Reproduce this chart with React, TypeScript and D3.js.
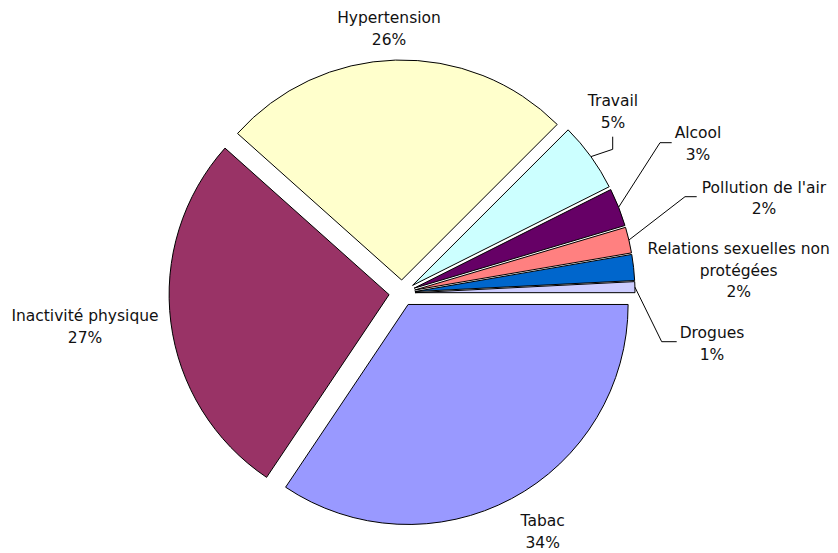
import React from "react";
import * as d3 from "d3";

const categories = [
  "Tabac",
  "Inactivité physique",
  "Hypertension",
  "Travail",
  "Alcool",
  "Pollution de l'air",
  "Relations sexuelles non protégées",
  "Drogues",
];
const values = [34.4, 27.2, 25.9, 5.1, 2.8, 1.9, 1.9, 0.8];
const nameLines = [
  ["Tabac"],
  ["Inactivité physique"],
  ["Hypertension"],
  ["Travail"],
  ["Alcool"],
  ["Pollution de l'air"],
  ["Relations sexuelles non", "protégées"],
  ["Drogues"],
];
const colors = ["#9999FF", "#993366", "#FFFFCC", "#CCFFFF", "#660066", "#FF8080", "#0066CC", "#CCCCFF"];

// layout (label anchor: center x, first baseline y)
const labelPos: [number, number][] = [
  [542.7, 526],
  [85, 321],
  [389, 23.3],
  [613, 106],
  [698, 138.3],
  [764, 192.7],
  [738.7, 254],
  [712, 338.3],
];
// leader polylines after arc attachment point (null = none)
const leaders: ([number, number][] | null)[] = [
  null,
  null,
  null,
  [[612.7, 149.3], [612.7, 136.7]],
  [[660, 142.7], [671.7, 142.7]],
  [[685, 196.7], [696.7, 196.7]],
  null,
  [[661.7, 341.7], [676.7, 341.7]],
];

const W = 838;
const H = 553;
const CX = 402;
const CY = 293;
const R = 220;
const EXPLODE = 13;
const LINE_H = 21.5;

export default function App() {
  const total = d3.sum(values);
  const pie = d3
    .pie<number>()
    .sort(null)
    .startAngle(Math.PI / 2)
    .endAngle(Math.PI / 2 + 2 * Math.PI);
  const arcs = pie(values);
  const arcGen = d3.arc<d3.PieArcDatum<number>>().innerRadius(0).outerRadius(R);

  return (
    <svg
      width={W}
      height={H}
      style={{ position: "absolute", left: 0, top: 0, display: "block", background: "#fff" }}
    >
      <g transform={`translate(${CX},${CY})`}>
        {arcs.map((a, i) => {
          const mid = (a.startAngle + a.endAngle) / 2;
          const dx = EXPLODE * Math.sin(mid);
          const dy = -EXPLODE * Math.cos(mid);
          return (
            <path
              key={i}
              d={arcGen(a) || ""}
              transform={`translate(${dx},${dy})`}
              fill={colors[i]}
              stroke="#000"
              strokeWidth={1}
              strokeLinejoin="round"
            />
          );
        })}
      </g>
      {arcs.map((a, i) => {
        const ld = leaders[i];
        if (!ld) return null;
        const mid = (a.startAngle + a.endAngle) / 2;
        const sx = CX + (EXPLODE + R) * Math.sin(mid);
        const sy = CY - (EXPLODE + R) * Math.cos(mid);
        const pts: [number, number][] = [[sx, sy], ...ld];
        return (
          <path
            key={"l" + i}
            d={d3.line()(pts) || ""}
            fill="none"
            stroke="#000"
            strokeWidth={1}
          />
        );
      })}
      {categories.map((c, i) => {
        const [x, y] = labelPos[i];
        const lines = [...nameLines[i], Math.round((values[i] / total) * 100) + "%"];
        return (
          <text
            key={"t" + i}
            x={x}
            y={y}
            textAnchor="middle"
            fontFamily="'DejaVu Sans', Verdana, sans-serif"
            fontSize={15.5}
            fill="#111"
          >
            {lines.map((t, j) => (
              <tspan key={j} x={x} y={y + j * LINE_H}>
                {t}
              </tspan>
            ))}
          </text>
        );
      })}
    </svg>
  );
}
